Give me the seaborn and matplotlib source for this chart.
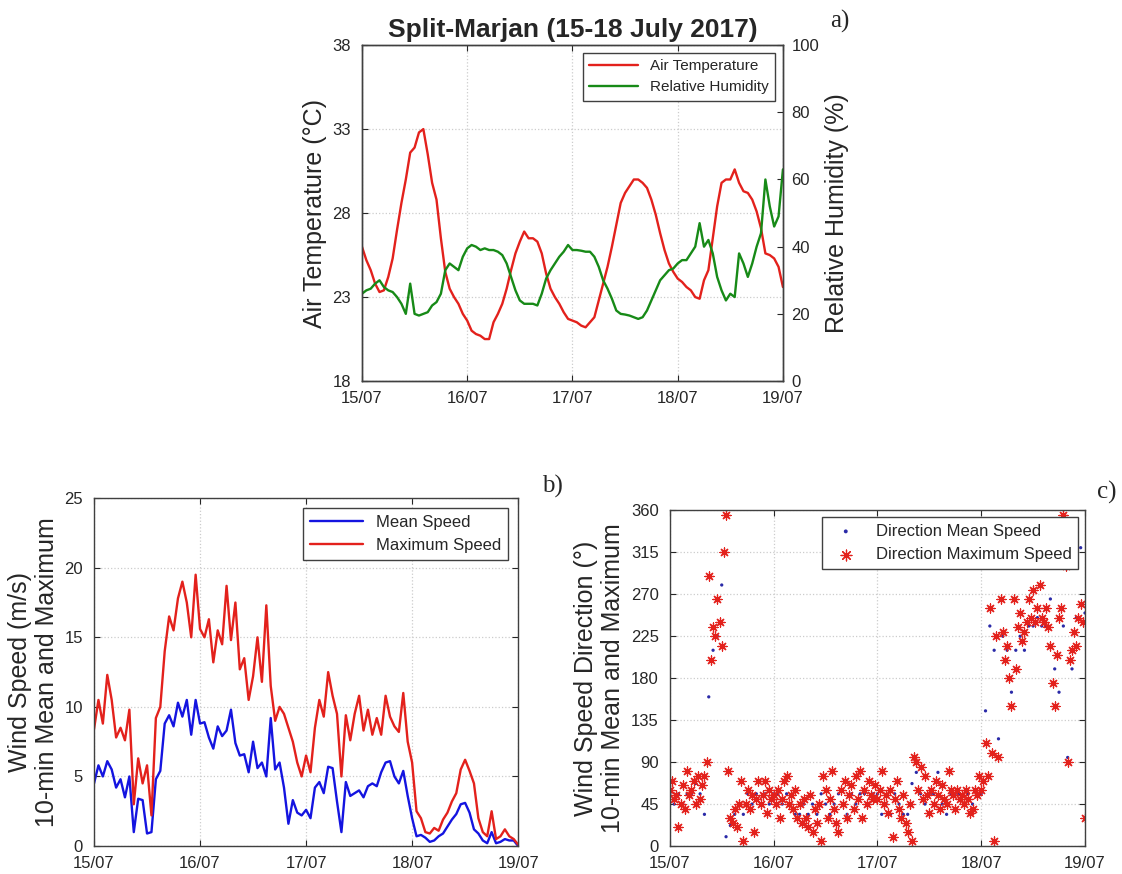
import numpy as np
import seaborn as sns
import matplotlib.pyplot as plt

# hourly samples, 15/07 00:00 -> 19/07 00:00
air_temp = [26.0, 25.2, 24.6, 23.8, 23.3, 23.4, 24.2, 25.3, 27.0, 28.6,
            30.0, 31.6, 31.9, 32.8, 33.0, 31.5, 29.8, 28.8, 26.5, 24.5,
            23.5, 23.0, 22.6, 22.0, 21.6, 21.0, 20.8, 20.7, 20.5, 20.5,
            21.5, 22.0, 22.6, 23.5, 24.6, 25.6, 26.3, 26.9, 26.5, 26.5,
            26.3, 25.6, 24.4, 23.5, 23.0, 22.6, 22.1, 21.7, 21.6, 21.5,
            21.3, 21.2, 21.5, 21.8, 22.8, 23.8, 24.8, 26.0, 27.3, 28.6,
            29.2, 29.6, 30.0, 30.0, 29.8, 29.5, 28.8, 27.9, 26.8, 25.8,
            25.0, 24.5, 24.1, 23.9, 23.6, 23.4, 23.0, 22.9, 24.0, 24.6,
            26.5, 28.4, 29.8, 30.0, 30.0, 30.6, 29.8, 29.3, 29.2, 28.8,
            28.1, 27.1, 25.6, 25.5, 25.3, 24.8, 23.6]
rel_hum = [26, 27, 27.5, 29, 30, 28, 27, 26.5, 25, 23,
           20, 29, 20, 19.5, 20, 20.5, 22.5, 23.5, 26, 33,
           35, 34, 33, 37, 39.5, 40.5, 40, 39, 39.5, 39,
           39, 38.5, 37.5, 35, 31, 27, 24, 23, 23, 23,
           22.5, 26, 30.5, 33, 35, 37, 38.5, 40.5, 39, 39,
           38.8, 38.5, 38.5, 37, 34, 30, 27.5, 24.5, 21, 20,
           19.8, 19.5, 19, 18.5, 19, 21, 24, 27, 30, 31.5,
           33, 33.5, 35, 36, 36, 38, 40, 47, 40, 42,
           38, 31, 27, 24, 26, 25, 38, 35, 31, 35,
           40, 44, 60, 52, 46, 49, 63]
max_speed = [8.4, 10.5, 8.8, 12.3, 10.5, 7.8, 8.5, 7.6, 9.8, 3.0,
             6.3, 4.5, 5.8, 2.2, 9.2, 10.0, 14.0, 16.5, 15.5, 17.8,
             19.0, 17.5, 15.0, 19.5, 15.6, 15.0, 16.3, 13.2, 15.5, 14.5,
             18.7, 14.8, 17.5, 12.7, 13.5, 10.5, 12.2, 15.0, 11.8, 17.3,
             11.5, 9.0, 10.0, 9.5, 8.5, 7.5, 6.0, 5.0, 6.5, 5.3,
             8.5, 10.5, 9.3, 12.5, 10.8, 9.5, 5.0, 9.4, 7.6, 9.5,
             10.8, 8.3, 9.8, 8.0, 9.2, 8.0, 10.8, 9.3, 8.6, 8.2,
             11.0, 7.5, 6.0, 2.5, 2.0, 1.0, 0.9, 1.3, 1.1, 1.9,
             2.4, 3.2, 3.8, 5.5, 6.2, 5.4, 4.5, 2.0, 1.0, 0.7,
             2.5, 0.5, 0.7, 1.2, 0.7, 0.5, 0.1]
mean_speed = [4.5, 5.8, 5.0, 6.1, 5.5, 4.2, 4.8, 3.5, 5.0, 1.0,
              3.4, 3.3, 0.9, 1.0, 4.8, 5.4, 8.8, 9.4, 8.6, 10.3,
              9.3, 10.5, 8.0, 10.5, 8.8, 8.9, 7.8, 7.0, 8.6, 7.9,
              8.3, 9.8, 7.4, 6.5, 6.6, 5.3, 7.5, 5.6, 6.0, 5.0,
              9.2, 5.5, 6.0, 4.2, 1.6, 3.3, 2.4, 2.2, 2.6, 2.0,
              4.2, 4.6, 3.8, 5.7, 5.6, 3.2, 1.0, 4.6, 3.6, 3.8,
              4.0, 3.5, 4.3, 4.5, 4.3, 5.3, 6.0, 6.1, 5.0, 4.5,
              5.4, 3.6, 2.0, 0.7, 0.8, 0.6, 0.3, 0.4, 0.7, 0.9,
              1.4, 1.9, 2.3, 3.0, 3.1, 2.4, 1.2, 0.9, 0.4, 0.2,
              1.0, 0.2, 0.3, 0.5, 0.4, 0.4, 0.0]
# hourly direction of mean speed
dir_mean = [56, 45, 56, 45, 56, 56, 67, 56, 34, 160,
            210, 225, 280, 10, 22, 34, 45, 34, 56, 45,
            56, 45, 56, 45, 56, 56, 45, 56, 45, 34,
            34, 45, 34, 45, 34, 56, 45, 34, 45, 56,
            45, 34, 56, 45, 56, 56, 45, 56, 56, 34,
            45, 34, 56, 45, 34, 34, 67, 79, 56, 45,
            56, 56, 79, 45, 34, 56, 56, 56, 45, 56,
            45, 56, 56, 145, 236, 210, 115, 225, 210, 165,
            210, 225, 210, 236, 236, 245, 236, 236, 265, 190,
            165, 236, 95, 190, 245, 320, 250]
# half-hourly direction of maximum speed
dir_max = [60, 70, 50, 55, 20, 45, 65, 40, 80, 55,
           60, 70, 45, 75, 50, 65, 75, 90, 290, 200,
           235, 225, 265, 240, 215, 315, 355, 80, 30, 25,
           40, 20, 45, 70, 5, 45, 60, 40, 55, 15,
           50, 70, 45, 55, 70, 35, 60, 50, 55, 45,
           60, 30, 50, 70, 75, 45, 55, 40, 60, 30,
           45, 25, 50, 30, 20, 55, 15, 40, 25, 45,
           5, 75, 60, 30, 50, 80, 40, 25, 15, 60,
           45, 70, 30, 55, 65, 40, 75, 50, 80, 30,
           60, 45, 70, 55, 50, 65, 50, 60, 80, 45,
           55, 35, 60, 10, 50, 70, 40, 30, 55, 25,
           15, 45, 5, 95, 90, 60, 85, 50, 75, 55,
           35, 60, 45, 70, 55, 40, 65, 50, 45, 80,
           60, 55, 40, 60, 50, 55, 45, 60, 50, 35,
           40, 60, 55, 75, 60, 70, 110, 75, 255, 100,
           5, 225, 95, 265, 230, 200, 215, 180, 150, 265,
           190, 235, 250, 220, 230, 240, 265, 245, 275, 240,
           255, 280, 245, 240, 255, 235, 215, 175, 150, 205,
           245, 255, 355, 300, 90, 200, 210, 230, 215, 245,
           260, 240, 30]

day_ticks = [0, 1, 2, 3, 4]
day_labels = ["15/07", "16/07", "17/07", "18/07", "19/07"]

t_hour = np.arange(len(air_temp)) / 24
t_half = np.arange(len(dir_max)) / 48

sns.set_style("ticks")
plt.rcParams["font.family"] = ["Liberation Sans", "DejaVu Sans"]
plt.rcParams["xtick.direction"] = "in"
plt.rcParams["ytick.direction"] = "in"
plt.rcParams["axes.edgecolor"] = "#404040"
plt.rcParams["axes.linewidth"] = 1.0

RED = "#e3211c"
GREEN = "#178a17"
BLUE = "#1414e0"

fig = plt.figure(figsize=(11.22, 8.74), dpi=100)


def style_axis(ax, ylim, yticks):
    ax.set_xlim(0, 4)
    ax.set_xticks(day_ticks)
    ax.set_xticklabels(day_labels)
    ax.set_ylim(*ylim)
    ax.set_yticks(yticks)
    ax.grid(True, linestyle=":", color="#cccccc", linewidth=0.9)
    ax.tick_params(labelsize=12, colors="#262626", length=4, top=True, right=True)
    ax.tick_params(axis="x", pad=7)
    ax.tick_params(axis="y", pad=8)
    ax.set_xlabel("")


# a) temperature and humidity
ax1 = fig.add_axes([0.3226, 0.564, 0.3752, 0.3844])
sns.lineplot(x=t_hour, y=air_temp, ax=ax1, color=RED, linewidth=1.7, label="Air Temperature", legend=False)
style_axis(ax1, (18, 38), [18, 23, 28, 33, 38])
ax1.tick_params(right=False)
ax1.set_ylabel("Air Temperature (°C)", fontsize=18, labelpad=4)
ax1.set_title("Split-Marjan (15-18 July 2017)", fontsize=19, fontweight="bold", pad=6)

ax1b = ax1.twinx()
sns.lineplot(x=t_hour, y=rel_hum, ax=ax1b, color=GREEN, linewidth=1.7, label="Relative Humidity", legend=False)
ax1b.set_ylim(0, 100)
ax1b.set_yticks([0, 20, 40, 60, 80, 100])
ax1b.tick_params(labelsize=12, colors="#262626", length=4, direction="in", pad=6)
ax1b.set_ylabel("Relative Humidity (%)", fontsize=18, labelpad=4)
h1, l1 = ax1.get_legend_handles_labels()
h2, l2 = ax1b.get_legend_handles_labels()
ax1b.legend(h1 + h2, l1 + l2, loc="upper right", fontsize=11, fancybox=False,
            edgecolor="#404040", framealpha=1, handlelength=3.2, borderaxespad=0.5)
fig.text(0.74, 0.975, "a)", fontsize=18, family="Liberation Serif", va="center")

# b) wind speed
ax2 = fig.add_axes([0.0838, 0.032, 0.378, 0.398])
sns.lineplot(x=t_hour, y=mean_speed, ax=ax2, color=BLUE, linewidth=1.7, label="Mean Speed")
sns.lineplot(x=t_hour, y=max_speed, ax=ax2, color=RED, linewidth=1.7, label="Maximum Speed")
style_axis(ax2, (0, 25), [0, 5, 10, 15, 20, 25])
ax2.set_ylabel("Wind Speed (m/s)\n10-min Mean and Maximum", fontsize=18, linespacing=1.15)
ax2.legend(loc="upper right", fontsize=12, fancybox=False, edgecolor="#404040",
           framealpha=1, handlelength=3.2, borderaxespad=0.6)
fig.text(0.483, 0.443, "b)", fontsize=18, family="Liberation Serif", va="center")

# c) wind direction
ax3 = fig.add_axes([0.597, 0.032, 0.37, 0.384])
sns.scatterplot(x=t_hour, y=dir_mean, ax=ax3, color="#2a2aa8", marker=".", s=22,
                edgecolor="none", label="Direction Mean Speed")
sns.scatterplot(x=t_half, y=dir_max, ax=ax3, marker=(8, 2, 0), s=42,
                color=RED, edgecolor=RED, linewidth=0.9, label="Direction Maximum Speed")
style_axis(ax3, (0, 360), [0, 45, 90, 135, 180, 225, 270, 315, 360])
ax3.set_ylabel("Wind Speed Direction (°)\n10-min Mean and Maximum", fontsize=18, linespacing=1.15)
ax3.legend(loc="upper right", fontsize=12, fancybox=False, edgecolor="#404040",
           framealpha=1, handlelength=2.0, borderaxespad=0.4, markerscale=1.2)
fig.text(0.978, 0.437, "c)", fontsize=18, family="Liberation Serif", va="center")

fig.savefig("out.png", dpi=100)
